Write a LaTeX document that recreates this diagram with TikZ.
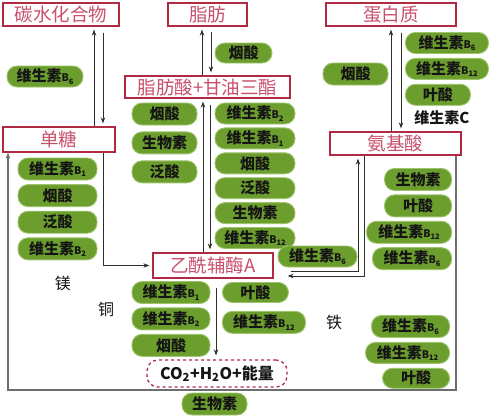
\documentclass[tikz,border=0pt]{standalone}
\usepackage{fontspec}
\setmainfont{Noto Sans CJK SC}
\usepackage{tikz}
\usetikzlibrary{arrows.meta, positioning}
\definecolor{FigInk}{HTML}{151515}
\definecolor{LinkInk}{HTML}{2E2E2E}
\definecolor{LoopInk}{HTML}{6E6E6E}
\definecolor{FrameInk}{HTML}{B02A44}
\definecolor{FrameText}{HTML}{C9506C}
\definecolor{PillFill}{HTML}{6C9E2E}
\definecolor{PillEdge}{HTML}{9DC46A}
\newcommand{\vitB}[1]{维生素{\fontsize{10.5}{10.5}\selectfont B}\raisebox{-2.5pt}{\fontsize{7.5}{7.5}\selectfont #1}}

\begin{document}
\begin{tikzpicture}[x=1pt, y=-1pt, >={Stealth[length=6pt, width=4.5pt]},
  titlebox/.style={draw=FrameInk, fill=white, line width=1.3pt, inner sep=0pt,
    text=FrameText, font=\fontsize{18.5}{18.5}\selectfont},
  pill/.style={draw=PillEdge, fill=PillFill, rounded corners=10pt, line width=0.9pt,
    inner sep=0pt, minimum height=21pt, text=FigInk,
    font=\bfseries\fontsize{15}{15}\selectfont},
  metal/.style={text=FigInk, font=\fontsize{16}{16}\selectfont},
  flow/.style={->, draw=LinkInk, line width=0.8pt, shorten >=3pt}]
\useasboundingbox (0,0) rectangle (491,416);

% substances
\node[titlebox, minimum width=116pt, minimum height=23pt] (carb) at (61,14.5) {碳水化合物};
\node[titlebox, minimum width=79pt, minimum height=23pt] (fat) at (207.5,14.5) {脂肪};
\node[titlebox, minimum width=130pt, minimum height=23pt] (prot) at (391,14.5) {蛋白质};
\node[titlebox, minimum width=165pt, minimum height=22pt] (fatty) at (207.5,87) {脂肪酸+甘油三酯};
\node[titlebox, minimum width=112pt, minimum height=25pt] (mono) at (59,139.5) {单糖};
\node[titlebox, minimum width=131pt, minimum height=23pt] (amino) at (395.5,143.5) {氨基酸};
\node[titlebox, minimum width=120pt, minimum height=25pt] (acoa) at (213,265.5) {乙酰辅酶A};
\node[draw=FrameInk, dashed, rounded corners=11pt, line width=1.3pt, inner sep=0pt,
      minimum width=140pt, minimum height=27pt, text=FigInk,
      font=\bfseries\fontsize{16}{16}\selectfont] (co2) at (217,373.5)
  {CO\textsubscript{2}+H\textsubscript{2}O+能量};

% carbohydrate / fat cofactors
\node[pill, minimum width=76pt] (cB6) at (45,76.5) {\vitB{6}};
\node[pill, minimum width=57pt, minimum height=20pt] (fNia) at (243.5,53) {烟酸};

% protein cofactors
\node[pill, minimum width=83pt, anchor=north west] (pB6) at (405,32) {\vitB{6}};
\node[pill, minimum width=83pt, below=4pt of pB6.south west, anchor=north west] (pB12) {\vitB{12}};
\node[pill, minimum width=65pt, below=4pt of pB12.south west, anchor=north west] (pFol) {叶酸};
\node[pill, minimum width=65pt, minimum height=22pt] (pNia) at (355.5,74) {烟酸};
\node[text=FigInk, font=\bfseries\fontsize{15}{15}\selectfont] (vC) at (442,118) {维生素C};

% fatty acid column, left
\node[pill, minimum width=65pt, minimum height=22pt] (lNia) at (164.5,114) {烟酸};
\node[pill, minimum width=65pt, minimum height=22pt, below=6pt of lNia] (lBio) {生物素};
\node[pill, minimum width=65pt, minimum height=22pt, below=6pt of lBio] (lPan) {泛酸};

% fatty acid column, right
\node[pill, minimum width=80pt] (rB2) at (255,113.5) {\vitB{2}};
\node[pill, minimum width=80pt, below=3pt of rB2] (rB1) {\vitB{1}};
\node[pill, minimum width=80pt, below=3pt of rB1] (rNia) {烟酸};
\node[pill, minimum width=80pt, below=3pt of rNia] (rPan) {泛酸};
\node[pill, minimum width=80pt, below=3pt of rPan] (rBio) {生物素};
\node[pill, minimum width=80pt, below=3pt of rBio] (rB12) {\vitB{12}};

% monosaccharide column
\node[pill, minimum width=79pt, minimum height=22pt] (m1) at (57.5,169) {\vitB{1}};
\node[pill, minimum width=79pt, minimum height=22pt, below=3.7pt of m1] (m2) {烟酸};
\node[pill, minimum width=79pt, minimum height=22pt, below=3.7pt of m2] (m3) {泛酸};
\node[pill, minimum width=79pt, minimum height=22pt, below=3.7pt of m3] (m4) {\vitB{2}};

% amino acid column
\node[pill, minimum width=79pt] (xB6) at (317.5,256.5) {\vitB{6}};
\node[pill, minimum width=67pt, minimum height=22pt, anchor=north east] (aBio) at (452,168) {生物素};
\node[pill, minimum width=67pt, minimum height=22pt, below=3.5pt of aBio.south east, anchor=north east] (aFol) {叶酸};
\node[pill, minimum width=85pt, minimum height=22pt, below=3.5pt of aFol.south east, anchor=north east] (aB12) {\vitB{12}};
\node[pill, minimum width=79pt, minimum height=22pt, below=3.5pt of aB12.south east, anchor=north east] (aB6) {\vitB{6}};

% acetyl-CoA cofactors
\node[pill, minimum width=78pt, minimum height=22pt] (kB1) at (171,292.5) {\vitB{1}};
\node[pill, minimum width=78pt, minimum height=22pt, below=3.5pt of kB1] (kB2) {\vitB{2}};
\node[pill, minimum width=78pt, minimum height=22pt, below=3.5pt of kB2] (kNia) {烟酸};
\node[pill, minimum width=66pt, minimum height=20pt, anchor=north west] (kFol) at (222,282) {叶酸};
\node[pill, minimum width=83pt, minimum height=22pt, below=8pt of kFol.south west, anchor=north west] (kB12) {\vitB{12}};

% lower right
\node[pill, minimum width=78pt, minimum height=22pt, anchor=north east] (eB6) at (450,315) {\vitB{6}};
\node[pill, minimum width=84pt, below=4pt of eB6.south east, anchor=north east] (eB12) {\vitB{12}};
\node[pill, minimum width=67pt, minimum height=20pt, below=4pt of eB12.south east, anchor=north east] (eFol) {叶酸};
\node[pill, minimum width=65pt, minimum height=22pt] (bBio) at (214.5,404) {生物素};

% minerals
\node[metal] (mg) at (63,283) {镁};
\node[metal] (cu) at (106,309) {铜};
\node[metal] (fe) at (334,322) {铁};

% connectors
\coordinate (cmUp) at ([xshift=35pt]mono.north);
\coordinate (cmDn) at ([xshift=44pt]mono.north);
\coordinate (cmOut) at ([xshift=44pt]mono.south);
\draw[flow] (cmUp) -- (cmUp |- carb.south);
\draw[flow, shorten <=6pt] (cmDn |- carb.south) -- (cmDn);
\draw[flow] (cmOut) |- (acoa.west);

\coordinate (ffUp) at ([xshift=-5.5pt]fatty.north);
\coordinate (ffDn) at ([xshift=3.5pt]fatty.north);
\draw[flow] (ffUp) -- (ffUp |- fat.south);
\draw[flow, shorten <=5pt] (ffDn |- fat.south) -- (ffDn);

\coordinate (paUp) at ([xshift=-4.5pt]amino.north);
\coordinate (paDn) at ([xshift=5.5pt]amino.north);
\draw[flow] (paUp) -- (paUp |- prot.south);
\draw[flow, shorten <=6pt] (paDn |- prot.south) -- (paDn);

\coordinate (faUp) at ([xshift=-10pt]acoa.north);
\coordinate (faDn) at ([xshift=-3pt]acoa.north);
\draw[flow] (faUp) -- (faUp |- fatty.south);
\draw[flow, shorten <=6pt] (faDn |- fatty.south) -- (faDn);

\coordinate (aaOut) at ([xshift=17pt, yshift=-5.5pt]acoa.east);
\coordinate (aaUp) at ([xshift=-37.5pt]amino.south);
\draw[flow] (aaOut) -| (aaUp);
\coordinate (aaDn) at ([xshift=-31.5pt]amino.south);
\coordinate (aaIn) at ([xshift=14pt, yshift=-10.5pt]acoa.east);
\draw[flow, shorten >=0pt] (aaDn) |- (aaIn);

\coordinate (acOut) at ([xshift=3pt, yshift=-9pt]acoa.south);
\draw[flow, shorten >=4pt] (acOut) -- (acOut |- co2.north);

\coordinate (loopR) at ([xshift=60.5pt]amino.south);
\coordinate (loopL) at ([xshift=-51pt]mono.south);
\coordinate (loopY) at (0,390);
\draw[flow, draw=LoopInk, line width=1.1pt, shorten >=0pt] (loopR) |- (loopL |- loopY) -- (loopL);
\end{tikzpicture}
\end{document}
